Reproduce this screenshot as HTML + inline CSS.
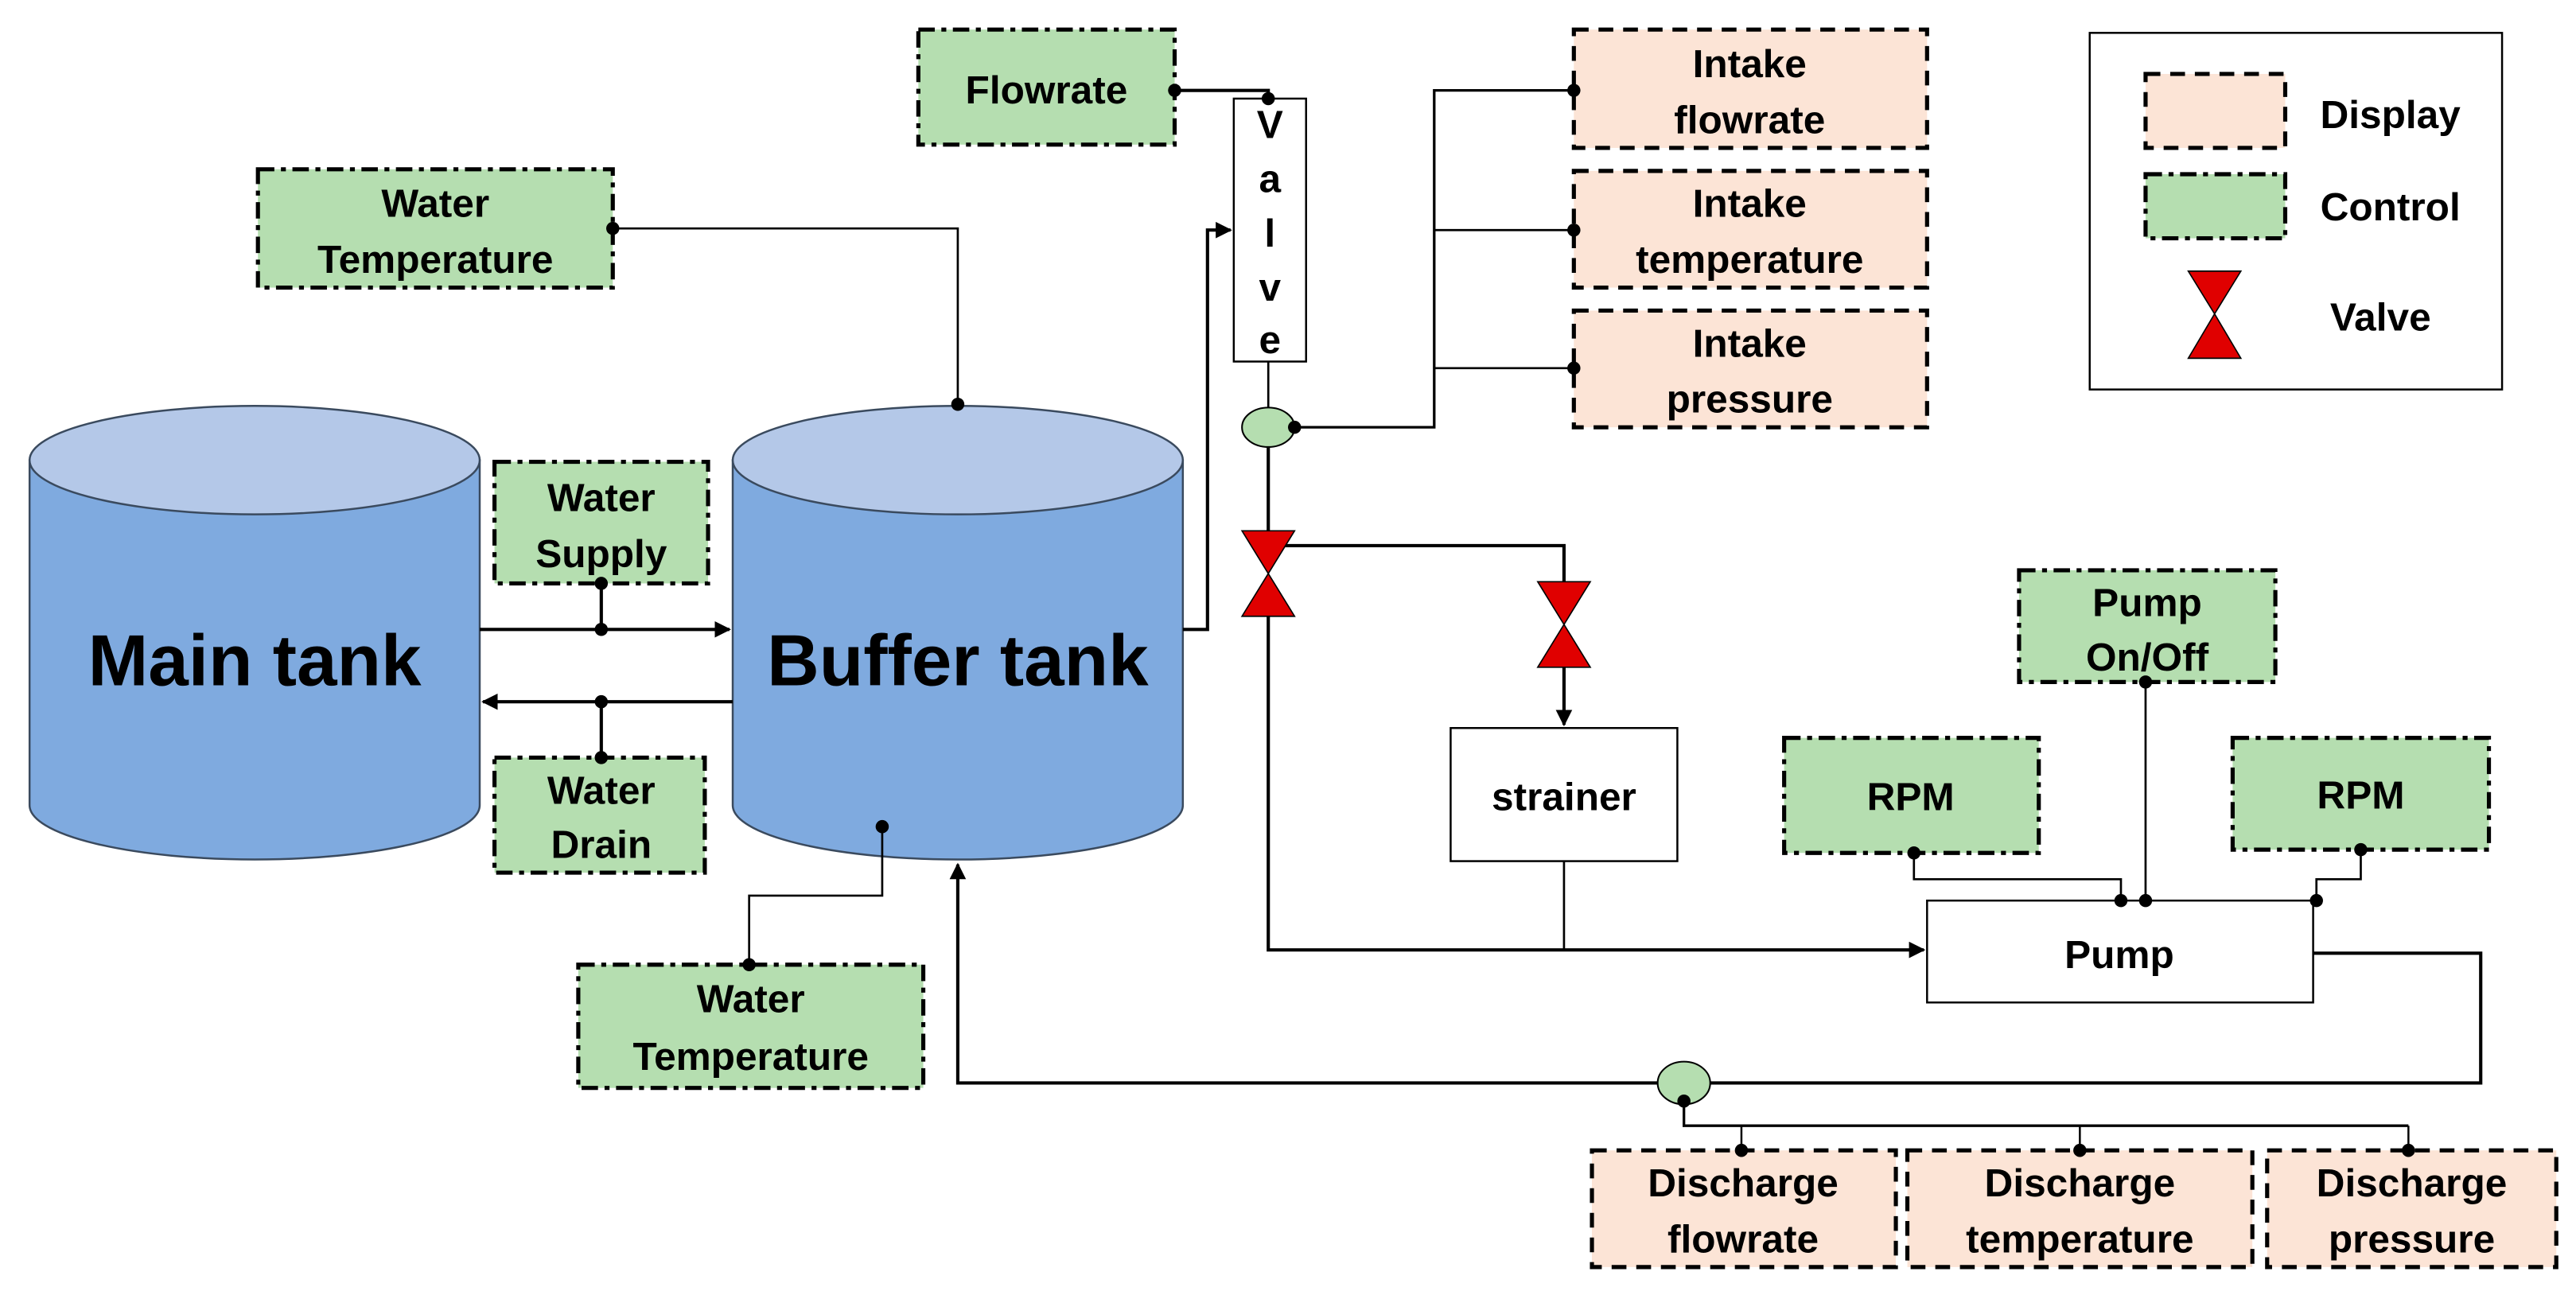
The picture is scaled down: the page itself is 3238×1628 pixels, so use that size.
<!DOCTYPE html>
<html><head><meta charset="utf-8"><style>html,body{margin:0;padding:0;background:#fff}svg{display:block}</style></head>
<body>
<svg width="3238" height="1628" viewBox="0 0 1568 788" preserveAspectRatio="none" xmlns="http://www.w3.org/2000/svg" font-family="Liberation Sans, sans-serif" font-weight="bold">
<defs>
<marker id="ar" markerWidth="10" markerHeight="10" refX="9" refY="5" orient="auto" markerUnits="userSpaceOnUse"><path d="M0,0 L10,5 L0,10 z" fill="#000"/></marker>
</defs>
<rect width="1568" height="788" fill="#fff"/>
<g stroke="#3a4a5e" stroke-width="1.2">
<path d="M18,280 V490 A137,33 0 0 0 292,490 V280 Z" fill="#7faadf"/>
<ellipse cx="155" cy="280" rx="137" ry="33" fill="#b4c8e8"/>
<path d="M446,280 V490 A137,33 0 0 0 720,490 V280 Z" fill="#7faadf"/>
<ellipse cx="583" cy="280" rx="137" ry="33" fill="#b4c8e8"/>
</g>
<text x="155" y="417" font-size="44" text-anchor="middle">Main tank</text>
<text x="583" y="417" font-size="44" text-anchor="middle">Buffer tank</text>

<g stroke="#000" stroke-width="2" fill="none">
<line x1="292" y1="383" x2="444" y2="383" marker-end="url(#ar)"/>
<line x1="446" y1="427" x2="294" y2="427" marker-end="url(#ar)"/>
<line x1="366" y1="355" x2="366" y2="383"/>
<line x1="366" y1="427" x2="366" y2="461"/>
<polyline points="373,139 583,139 583,246" stroke-width="1.3"/>
<polyline points="537,503 537,545 456,545 456,587" stroke-width="1.3"/>
<polyline points="720,383 735,383 735,140 749,140" marker-end="url(#ar)"/>
<polyline points="715,55 772,55 772,60"/>
<line x1="772" y1="220" x2="772" y2="248" stroke-width="1.3"/>
<polyline points="788,260 873,260 873,55 958,55" stroke-width="1.6"/>
<line x1="873" y1="140" x2="958" y2="140" stroke-width="1.3"/>
<line x1="873" y1="224" x2="958" y2="224" stroke-width="1.3"/>
<line x1="772" y1="272" x2="772" y2="323"/>
<polyline points="772,375 772,578 1171,578" marker-end="url(#ar)"/>
<polyline points="780,332 952,332 952,354"/>
<line x1="952" y1="406" x2="952" y2="441" marker-end="url(#ar)"/>
<polyline points="952,524 952,578" stroke-width="1.3"/>
<polyline points="1165,519 1165,535 1291,535 1291,548" stroke-width="1.3"/>
<line x1="1306" y1="415" x2="1306" y2="548" stroke-width="1.3"/>
<polyline points="1437,517 1437,535 1410,535 1410,548" stroke-width="1.3"/>
<polyline points="1408,580 1510,580 1510,659 1041,659"/>
<polyline points="1009,659 583,659 583,526" marker-end="url(#ar)"/>
<polyline points="1025,670 1025,685 1466,685" stroke-width="1.6"/>
<line x1="1060" y1="685" x2="1060" y2="700" stroke-width="1.2"/>
<line x1="1266" y1="685" x2="1266" y2="700" stroke-width="1.2"/>
<line x1="1466" y1="685" x2="1466" y2="700" stroke-width="1.2"/>
</g>

<g fill="#b5deb0" stroke="#000" stroke-width="2.5" stroke-dasharray="10 4 3 4">
<rect x="157" y="103" width="216" height="72"/>
<rect x="301" y="281" width="130" height="74"/>
<rect x="301" y="461" width="128" height="70"/>
<rect x="352" y="587" width="210" height="75"/>
<rect x="559" y="18" width="156" height="70"/>
<rect x="1229" y="347" width="156" height="68"/>
<rect x="1086" y="449" width="155" height="70"/>
<rect x="1359" y="449" width="156" height="68"/>
<rect x="1306" y="106" width="85" height="39"/>
</g>
<g fill="#fce4d6" stroke="#000" stroke-width="2.5" stroke-dasharray="9 6">
<rect x="958" y="18" width="215" height="72"/>
<rect x="958" y="104" width="215" height="71"/>
<rect x="958" y="189" width="215" height="71"/>
<rect x="969" y="700" width="185" height="71"/>
<rect x="1161" y="700" width="210" height="71"/>
<rect x="1380" y="700" width="176" height="71"/>
<rect x="1306" y="45" width="85" height="45"/>
</g>
<rect x="1272" y="20" width="251" height="217" fill="none" stroke="#000" stroke-width="1.2"/>

<g fill="#fff" stroke="#000" stroke-width="1.2">
<rect x="751" y="60" width="44" height="160"/>
<rect x="883" y="443" width="138" height="81"/>
<rect x="1173" y="548" width="235" height="62"/>
</g>
<g fill="#b5deb0" stroke="#000" stroke-width="1">
<ellipse cx="772" cy="260" rx="16" ry="12"/>
<ellipse cx="1025" cy="659" rx="16" ry="13"/>
</g>
<g fill="#e00000" stroke="#000" stroke-width="0.8">
<path d="M756,323 L788,323 L772,349 Z M756,375 L788,375 L772,349 Z"/>
<path d="M936,354 L968,354 L952,380 Z M936,406 L968,406 L952,380 Z"/>
<path d="M1332,165 L1364,165 L1348,191 Z M1332,218 L1364,218 L1348,191 Z"/>
</g>
<g fill="#000">
<circle cx="366" cy="355" r="4"/><circle cx="366" cy="383" r="4"/>
<circle cx="366" cy="427" r="4"/><circle cx="366" cy="461" r="4"/>
<circle cx="373" cy="139" r="4"/><circle cx="583" cy="246" r="4"/>
<circle cx="537" cy="503" r="4"/><circle cx="456" cy="587" r="4"/>
<circle cx="715" cy="55" r="4"/><circle cx="772" cy="60" r="4"/>
<circle cx="788" cy="260" r="4"/>
<circle cx="958" cy="55" r="4"/><circle cx="958" cy="140" r="4"/><circle cx="958" cy="224" r="4"/>
<circle cx="1165" cy="519" r="4"/><circle cx="1291" cy="548" r="4"/>
<circle cx="1306" cy="415" r="4"/><circle cx="1306" cy="548" r="4"/>
<circle cx="1437" cy="517" r="4"/><circle cx="1410" cy="548" r="4"/>
<circle cx="1025" cy="670" r="4"/>
<circle cx="1060" cy="700" r="4"/><circle cx="1266" cy="700" r="4"/><circle cx="1466" cy="700" r="4"/>
</g>

<g font-size="24" text-anchor="middle" fill="#000">
<text x="265" y="132">Water</text><text x="265" y="166">Temperature</text>
<text x="366" y="311">Water</text><text x="366" y="345">Supply</text>
<text x="366" y="489">Water</text><text x="366" y="522">Drain</text>
<text x="457" y="616">Water</text><text x="457" y="651">Temperature</text>
<text x="637" y="63">Flowrate</text>
<text x="1065" y="47">Intake</text><text x="1065" y="81">flowrate</text>
<text x="1065" y="132">Intake</text><text x="1065" y="166">temperature</text>
<text x="1065" y="217">Intake</text><text x="1065" y="251">pressure</text>
<text x="1307" y="375">Pump</text><text x="1307" y="408">On/Off</text>
<text x="1163" y="493">RPM</text>
<text x="1437" y="492">RPM</text>
<text x="952" y="493">strainer</text>
<text x="1290" y="589">Pump</text>
<text x="1061" y="728">Discharge</text><text x="1061" y="762">flowrate</text>
<text x="1266" y="728">Discharge</text><text x="1266" y="762">temperature</text>
<text x="1468" y="728">Discharge</text><text x="1468" y="762">pressure</text>
<text x="1455" y="78">Display</text>
<text x="1455" y="134">Control</text>
<text x="1449" y="201">Valve</text>
<text x="773" y="84">V</text><text x="773" y="117">a</text><text x="773" y="150">l</text><text x="773" y="183">v</text><text x="773" y="215">e</text>
</g>
</svg>
</body></html>
